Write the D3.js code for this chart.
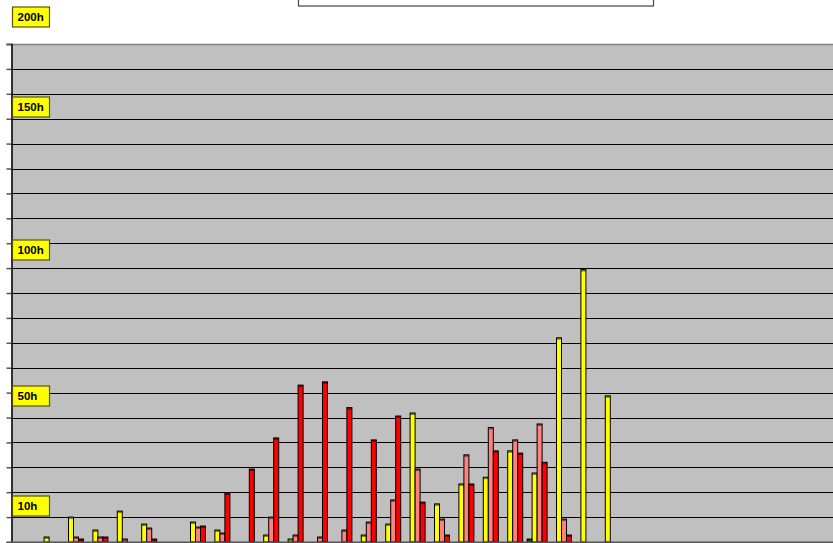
<!DOCTYPE html>
<html>
<head>
<meta charset="utf-8">
<script src="https://cdn.jsdelivr.net/npm/d3@7"></script>
<style>
  html, body { margin: 0; padding: 0; background: #fff; }
  svg { display: block; }
</style>
</head>
<body>
<div id="chart"></div>
<script>
(function () {
  'use strict';

  // --- Data (hours) ---
  // 34 category slots; the first and the last nine are empty
  const categories = d3.range(34).map(i => 'C' + i);
  const seriesNames = ['green', 'yellow', 'pink', 'red'];

  const greenValues = [0, 0, 0, 0, 0, 0, 0, 0, 0, 0, 0, 0, 0, 0, 0, 0, 0, 0, 0, 0, 0, 1.2, 0, 0, 0];
  const yellowValues = [0, 2, 10, 4.8, 12.4, 7.2, 0, 8, 4.8, 0, 2.8, 1.2, 0, 0, 2.8, 7.2, 51.8, 15.3, 23.3, 26, 36.6, 27.7, 82, 109.4, 58.7];
  const pinkValues = [0, 0, 2, 2, 1.2, 5.6, 0, 6, 3.6, 0, 10, 2.8, 2, 4.8, 8, 16.9, 29.3, 9.2, 35, 46, 41, 47.4, 9.2, 0, 0];
  const redValues = [0, 0, 1.2, 2, 0, 1.2, 0, 6.4, 19.7, 29.3, 41.8, 63, 64.3, 54, 41, 50.6, 16, 2.8, 23.3, 36.6, 35.7, 32, 2.8, 0, 0];

  const yTicks = d3.range(0, 201, 10);
  const labelTexts = ['200h', '150h', '100h', '50h', '10h'];
  const labelAnchors = [211, 174.5, 117.3, 58.6, 14.3]; // where the tag boxes sit, in hours

  const COLORS = {
    green: '#00A000',
    yellow: '#FFFF00',
    pink: '#FF8080',
    red: '#FF0000',
    plot: '#C0C0C0',
    grid: '#000000',
    tag: '#FFFF00',
    tagBorder: '#55550A',
  };

  const seriesValues = { green: greenValues, yellow: yellowValues, pink: pinkValues, red: redValues };

  const W = 833, H = 543;
  const plot = { left: 11, right: 833, top: 44, bottom: 542 };

  const svg = d3.select('#chart').append('svg')
    .attr('width', W).attr('height', H);

  // Legend frame cut by the top edge
  svg.append('rect')
    .attr('x', 298.5).attr('y', -20)
    .attr('width', 355).attr('height', 26)
    .attr('fill', '#fff')
    .attr('stroke', '#444')
    .attr('stroke-width', 1.2);

  const y = d3.scaleLinear().domain([0, 200]).range([plot.bottom, plot.top]);
  const x = d3.scaleBand().domain(categories).range([14.2, 14.2 + 34 * 24.4]);
  const xs = d3.scaleBand().domain(seriesNames).range([0, 20]);

  // Plot area
  svg.append('rect')
    .attr('x', plot.left).attr('y', plot.top)
    .attr('width', plot.right - plot.left).attr('height', H - plot.top)
    .attr('fill', COLORS.plot);

  // Grid lines
  svg.append('g')
    .selectAll('line')
    .data(yTicks.filter(d => d > 0 && d < 200))
    .join('line')
    .attr('x1', plot.left).attr('x2', plot.right)
    .attr('y1', d => Math.round(y(d)) + 0.5).attr('y2', d => Math.round(y(d)) + 0.5)
    .attr('stroke', COLORS.grid)
    .attr('stroke-width', 1.2);

  // Top border
  svg.append('line')
    .attr('x1', plot.left).attr('x2', plot.right)
    .attr('y1', plot.top + 0.5).attr('y2', plot.top + 0.5)
    .attr('stroke', '#808080').attr('stroke-width', 1.5);

  // Bars
  const clip = svg.append('defs').append('clipPath').attr('id', 'plot-clip');
  clip.append('rect')
    .attr('x', plot.left).attr('y', plot.top)
    .attr('width', plot.right - plot.left).attr('height', plot.bottom - plot.top);

  const bars = [];
  seriesNames.forEach(s => {
    seriesValues[s].forEach((v, i) => {
      if (v > 0) bars.push({ series: s, cat: categories[i], value: v });
    });
  });

  const barG = svg.append('g').attr('clip-path', 'url(#plot-clip)');

  barG.selectAll('rect.bar')
    .data(bars)
    .join('rect')
    .attr('class', 'bar')
    .attr('x', d => x(d.cat) + xs(d.series) + 0.5)
    .attr('y', d => y(d.value))
    .attr('width', xs.bandwidth())
    .attr('height', d => plot.bottom - y(d.value))
    .attr('fill', d => COLORS[d.series])
    .attr('stroke', '#000')
    .attr('stroke-width', 1);

  // Dark caps on top of each bar
  barG.selectAll('rect.cap')
    .data(bars)
    .join('rect')
    .attr('class', 'cap')
    .attr('x', d => x(d.cat) + xs(d.series) + 0.5)
    .attr('y', d => y(d.value))
    .attr('width', xs.bandwidth())
    .attr('height', d => Math.min(2, plot.bottom - y(d.value)))
    .attr('fill', '#000')
    .attr('opacity', 0.45);

  // Left axis
  const axis = svg.append('g')
    .attr('transform', `translate(${plot.left + 0.5},0)`)
    .call(d3.axisLeft(y).tickValues(yTicks).tickSize(5).tickFormat(''));
  axis.select('.domain').attr('stroke', '#000').attr('stroke-width', 1.5);
  axis.selectAll('.tick line').attr('stroke', '#555').attr('stroke-width', 1.5);

  // Baseline
  svg.append('line')
    .attr('x1', plot.left).attr('x2', plot.right)
    .attr('y1', plot.bottom + 0.5).attr('y2', plot.bottom + 0.5)
    .attr('stroke', '#555').attr('stroke-width', 2);

  // Hour tags
  const tags = svg.append('g')
    .selectAll('g')
    .data(labelTexts.map((t, i) => ({ text: t, at: labelAnchors[i] })))
    .join('g')
    .attr('transform', d => `translate(12.5,${Math.round(y(d.at)) - 10})`);

  tags.append('rect')
    .attr('width', 37).attr('height', 20)
    .attr('fill', COLORS.tag)
    .attr('stroke', COLORS.tagBorder)
    .attr('stroke-width', 1.2);

  tags.append('text')
    .attr('x', 5).attr('y', 14)
    .attr('font-family', 'Liberation Sans, Arial, sans-serif')
    .attr('font-weight', 700)
    .attr('font-size', '11.5px')
    .attr('fill', '#000')
    .text(d => d.text);
})();
</script>
</body>
</html>
